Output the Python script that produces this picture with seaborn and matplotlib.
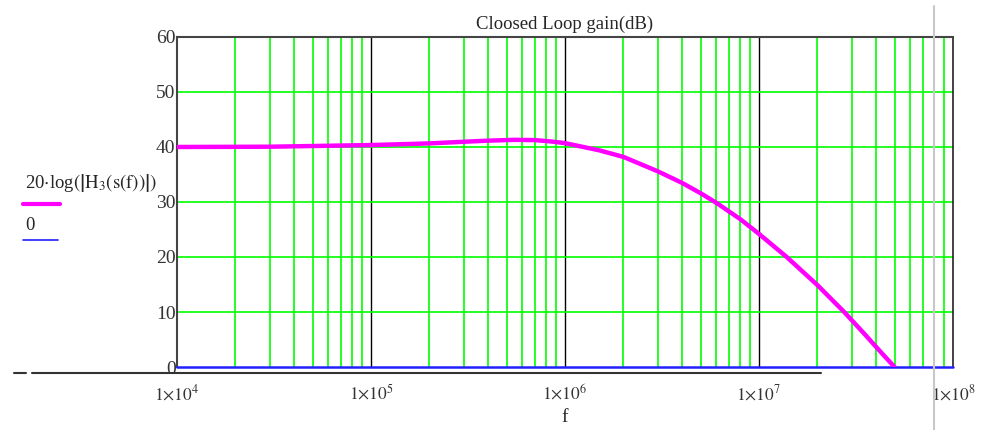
import numpy as np
import pandas as pd
import matplotlib.pyplot as plt
import seaborn as sns
from matplotlib.lines import Line2D

# data
freq = [1e4, 3e4, 1e5, 2e5, 3e5, 4e5, 5.5e5, 7e5, 8.5e5, 1e6, 1.5e6, 2e6, 3e6,
        4e6, 5e6, 6e6, 8e6, 1e7, 1.39e7, 2e7, 2.75e7, 3.5e7, 4.3e7, 5e7]
gain_db = [40.0, 40.05, 40.35, 40.65, 40.95, 41.15, 41.3, 41.25, 41.0, 40.7,
           39.4, 38.2, 35.6, 33.5, 31.6, 29.9, 26.9, 24.2, 20.0, 14.9, 10.0,
           6.0, 2.5, 0.0]
zero_line = [0, 0]
zero_freq = [1e4, 1e8]
x_ticks = [1e4, 1e5, 1e6, 1e7, 1e8]
x_labels = [r'$1{\times}10^{4}$', r'$1{\times}10^{5}$', r'$1{\times}10^{6}$',
            r'$1{\times}10^{7}$', r'$1{\times}10^{8}$']
y_ticks = [0, 10, 20, 30, 40, 50, 60]

sns.set_style('white')
plt.rcParams['font.family'] = ['Liberation Serif', 'DejaVu Serif']
plt.rcParams['mathtext.fontset'] = 'stix'

df = pd.DataFrame({'f': freq, 'gain': gain_db})
df0 = pd.DataFrame({'f': zero_freq, 'gain': zero_line})

fig = plt.figure(figsize=(9.87, 4.30), dpi=100)
ax = fig.add_axes([0.1793, 0.1465, 0.9655 - 0.1793, 0.914 - 0.1465])

ax.set_xscale('log')
ax.set_xlim(1e4, 1e8)
ax.set_ylim(0, 60)

# grid: green minor + horizontal, black decades
for dec in [1e4, 1e5, 1e6, 1e7]:
    for m in range(2, 10):
        ax.axvline(dec * m, color='#00ff00', lw=1.2, zorder=1)
for dec in [1e5, 1e6, 1e7]:
    ax.axvline(dec, color='black', lw=1.0, zorder=1)
for y in [10, 20, 30, 40, 50]:
    ax.axhline(y, color='#00ff00', lw=1.2, zorder=1)

sns.lineplot(data=df0, x='f', y='gain', ax=ax, color='#2020ff', lw=1.8,
             zorder=3, clip_on=False)
sns.lineplot(data=df, x='f', y='gain', ax=ax, color='#ff00ff', lw=3.2, zorder=4)

ax.set_xticks(x_ticks)
ax.set_xticklabels(x_labels, fontsize=12.5)
ax.set_yticks(y_ticks)
ax.set_yticklabels([str(v) for v in y_ticks], fontsize=14)
ax.minorticks_off()
ax.set_xticks([], minor=True)
ax.tick_params(axis='both', length=0, colors='#333333')
ax.tick_params(axis='x', pad=12)
ax.tick_params(axis='y', pad=1)
ax.set_xlabel('f', fontsize=14, labelpad=4)
ax.set_ylabel('')
ax.set_title('Cloosed Loop gain(dB)', fontsize=13.5, pad=6)

for s in ['left', 'top']:
    ax.spines[s].set_color('#444444')
    ax.spines[s].set_linewidth(1.5)
ax.spines['right'].set_color('#222222')
ax.spines['right'].set_linewidth(1.2)
ax.spines['bottom'].set_visible(False)

# legend-like text on the left
fig.text(25 / 987, 1 - 183 / 430, r'20$\cdot$log$\left(\left|\mathrm{H}_{3}(\mathrm{s}(\mathrm{f}))\right|\right)$',
         fontsize=13.5, va='center', ha='left')
fig.add_artist(Line2D([23 / 987, 60 / 987], [1 - 204 / 430, 1 - 204 / 430],
                      color='#ff00ff', lw=3))
fig.text(25 / 987, 1 - 226 / 430, '0', fontsize=13.5, va='center', ha='left')
fig.add_artist(Line2D([23 / 987, 58 / 987], [1 - 240 / 430, 1 - 240 / 430],
                      color='#2020ff', lw=1.2))

# x axis line under plot and page edge
fig.add_artist(Line2D([14 / 987, 26 / 987], [1 - 373 / 430, 1 - 373 / 430],
                      color='#333333', lw=1.5))
fig.add_artist(Line2D([32 / 987, 821 / 987], [1 - 373 / 430, 1 - 373 / 430],
                      color='#333333', lw=1.5))
fig.add_artist(Line2D([934 / 987, 934 / 987], [0, 1 - 6 / 430],
                      color='#c8c8c8', lw=1.5))

fig.savefig('out.png', dpi=100)
